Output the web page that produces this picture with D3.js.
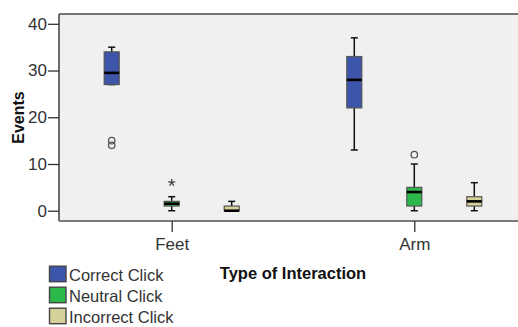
<!DOCTYPE html>
<html>
<head>
<meta charset="utf-8">
<script src="https://cdn.jsdelivr.net/npm/d3@7"></script>
<style>
  html, body { margin: 0; padding: 0; background: #fff; }
  svg { display: block; }
  text { font-family: "Liberation Sans", Arial, sans-serif; }
</style>
</head>
<body>
<svg id="chart" width="518" height="327"></svg>
<script>
// Interaction types along the x axis
const groups = ["Feet", "Arm"];
// Click categories, one box per group
const series = ["Correct Click", "Neutral Click", "Incorrect Click"];
const seriesColors = ["#3d56ab", "#2db84b", "#d6d19b"];

// Box statistics per series, one entry per group: [low whisker, Q1, median, Q3, high whisker]
const correctStats = [[27, 27, 29.5, 34, 35], [13, 22, 28, 33, 37]];
const neutralStats = [[0, 1, 1.5, 2, 3], [0, 1, 4, 5, 10]];
const incorrectStats = [[0, 0, 0, 1, 2], [0, 1, 2, 3, 6]];

// Outliers (circles) and extreme values (stars) per series, per group
const correctOutliers = [[14, 15], []];
const neutralOutliers = [[], [12]];
const incorrectOutliers = [[], []];
const correctExtremes = [[], []];
const neutralExtremes = [[6], []];
const incorrectExtremes = [[], []];

const yTicks = [0, 10, 20, 30, 40];

const stats = [correctStats, neutralStats, incorrectStats];
const outliers = [correctOutliers, neutralOutliers, incorrectOutliers];
const extremes = [correctExtremes, neutralExtremes, incorrectExtremes];

const svg = d3.select("#chart");
const plot = { left: 59, right: 527, top: 14, bottom: 221 };

const x = d3.scalePoint().domain(groups).range([plot.left, plot.right]).padding(0.4646);
const xs = d3.scaleBand().domain(series).range([-90, 90]);
const y = d3.scaleLinear().domain([-2.2, 42.1]).range([plot.bottom, plot.top]);

const boxW = 15, capW = 7;

// Plot background and frame
svg.append("rect")
  .attr("x", plot.left).attr("y", plot.top)
  .attr("width", plot.right - plot.left).attr("height", plot.bottom - plot.top)
  .attr("fill", "#f0f0f0");
svg.append("line").attr("x1", plot.left).attr("x2", plot.right)
  .attr("y1", plot.top).attr("y2", plot.top)
  .attr("stroke", "#4a4a4a").attr("stroke-width", 1.6);
svg.append("line").attr("x1", plot.left).attr("x2", plot.left)
  .attr("y1", plot.top).attr("y2", plot.bottom)
  .attr("stroke", "#4a4a4a").attr("stroke-width", 1.6);
svg.append("line").attr("x1", plot.left).attr("x2", plot.right)
  .attr("y1", plot.bottom).attr("y2", plot.bottom)
  .attr("stroke", "#7a7a7a").attr("stroke-width", 2.2);

// Y axis
const yAxis = svg.append("g").attr("transform", `translate(${plot.left},0)`)
  .call(d3.axisLeft(y).tickValues(yTicks).tickSize(11).tickPadding(1).tickFormat(d3.format("d")));
yAxis.select(".domain").remove();
yAxis.selectAll(".tick line").attr("stroke", "#333").attr("stroke-width", 1.3);
yAxis.selectAll(".tick text").attr("font-size", 17).attr("fill", "#333")
  .attr("font-family", "Liberation Sans, Arial, sans-serif");

// X axis
const xAxis = svg.append("g").attr("transform", `translate(0,${plot.bottom})`)
  .call(d3.axisBottom(x).tickSize(11).tickPadding(6));
xAxis.select(".domain").remove();
xAxis.selectAll(".tick line").attr("stroke", "#333").attr("stroke-width", 1.3);
xAxis.selectAll(".tick text").attr("font-size", 17).attr("fill", "#333")
  .attr("font-family", "Liberation Sans, Arial, sans-serif");

// Axis titles
svg.append("text").attr("x", 293).attr("y", 278.5).attr("text-anchor", "middle")
  .attr("font-size", 16.5).attr("font-weight", "bold").attr("fill", "#111")
  .text("Type of Interaction");
svg.append("text").attr("transform", "translate(24,117.5) rotate(-90)")
  .attr("text-anchor", "middle").attr("font-size", 16).attr("font-weight", "bold").attr("fill", "#111")
  .text("Events");

// Boxes
series.forEach((s, si) => {
  groups.forEach((g, gi) => {
    const [lo, q1, med, q3, hi] = stats[si][gi];
    const cx = x(g) + xs(s) + xs.bandwidth() / 2;
    const bx = svg.append("g");
    // whiskers
    bx.append("line").attr("x1", cx).attr("x2", cx).attr("y1", y(hi)).attr("y2", y(q3))
      .attr("stroke", "#111").attr("stroke-width", 1.5);
    bx.append("line").attr("x1", cx).attr("x2", cx).attr("y1", y(q1)).attr("y2", y(lo))
      .attr("stroke", "#111").attr("stroke-width", 1.5);
    bx.append("line").attr("x1", cx - capW / 2).attr("x2", cx + capW / 2).attr("y1", y(hi)).attr("y2", y(hi))
      .attr("stroke", "#111").attr("stroke-width", 1.5);
    bx.append("line").attr("x1", cx - capW / 2).attr("x2", cx + capW / 2).attr("y1", y(lo)).attr("y2", y(lo))
      .attr("stroke", "#111").attr("stroke-width", 1.5);
    // box
    bx.append("rect").attr("x", cx - boxW / 2).attr("y", y(q3))
      .attr("width", boxW).attr("height", Math.max(0, y(q1) - y(q3)))
      .attr("fill", seriesColors[si]).attr("stroke", "#555").attr("stroke-width", 1.2);
    // median
    bx.append("line").attr("x1", cx - boxW / 2).attr("x2", cx + boxW / 2).attr("y1", y(med)).attr("y2", y(med))
      .attr("stroke", "#000").attr("stroke-width", 2.6);
    // outliers
    outliers[si][gi].forEach(v => {
      bx.append("circle").attr("cx", cx).attr("cy", y(v)).attr("r", 3.2)
        .attr("fill", "none").attr("stroke", "#555").attr("stroke-width", 1.3);
    });
    // extreme values
    extremes[si][gi].forEach(v => {
      const r = 3.6, py = y(v);
      const d = d3.range(5).map(k => {
        const a = -Math.PI / 2 + k * 2 * Math.PI / 5;
        return `M${cx},${py}L${cx + r * Math.cos(a)},${py + r * Math.sin(a)}`;
      }).join("");
      bx.append("path").attr("d", d).attr("stroke", "#444").attr("stroke-width", 1.3).attr("fill", "none");
    });
  });
});

// Legend
const legend = svg.append("g");
series.forEach((s, si) => {
  const ly = 266.2 + si * 21;
  legend.append("rect").attr("x", 49.5).attr("y", ly).attr("width", 16.5).attr("height", 15.5)
    .attr("fill", seriesColors[si]).attr("stroke", "#444").attr("stroke-width", 1.4);
  legend.append("text").attr("x", 69).attr("y", ly + 14.8)
    .attr("font-size", 16.5).attr("fill", "#333").text(s);
});
</script>
</body>
</html>
